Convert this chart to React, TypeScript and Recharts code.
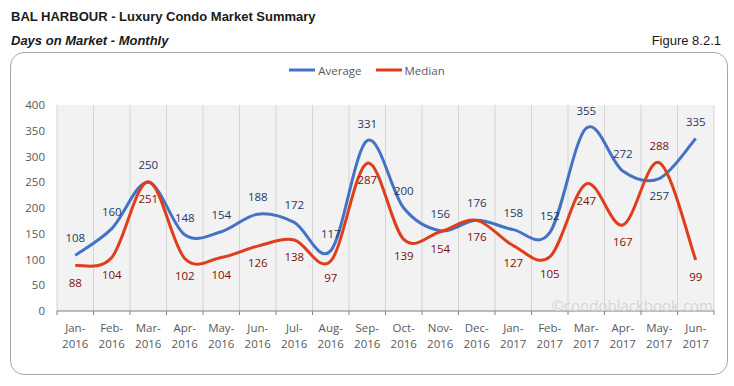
import { LineChart, Line, XAxis, YAxis, CartesianGrid, Legend, LabelList } from "recharts";

const months = [
  "Jan-2016", "Feb-2016", "Mar-2016", "Apr-2016", "May-2016", "Jun-2016",
  "Jul-2016", "Aug-2016", "Sep-2016", "Oct-2016", "Nov-2016", "Dec-2016",
  "Jan-2017", "Feb-2017", "Mar-2017", "Apr-2017", "May-2017", "Jun-2017",
];
const average = [108, 160, 250, 148, 154, 188, 172, 117, 331, 200, 156, 176, 158, 152, 355, 272, 257, 335];
const median = [88, 104, 251, 102, 104, 126, 138, 97, 287, 139, 154, 176, 127, 105, 247, 167, 288, 99];
const yTicks = [0, 50, 100, 150, 200, 250, 300, 350, 400];

// labels that Excel put on the "other" side of the point
const avgBelow = ["May-2017"];
const medAbove = ["May-2017"];

const data = months.map((m, i) => ({ month: m, average: average[i], median: median[i] }));

const W = 734;
const H = 386;
const X_H = 75;
const M = { top: 89, right: 20, bottom: 0, left: 0 };
const Y_W = 57;
const PLOT_W = W - M.left - M.right - Y_W;
const BAND = PLOT_W / months.length;

const FONT = "'Open Sans', 'Liberation Sans', sans-serif";
const BLUE = "#4472c4";
const RED = "#df3d1c";

// Excel-like smoothed line (Catmull-Rom through every point)
function excelCurve(context: any) {
  let pts: number[][] = [];
  return {
    areaStart() {},
    areaEnd() {},
    lineStart() {
      pts = [];
    },
    point(x: number, y: number) {
      pts.push([+x, +y]);
    },
    lineEnd() {
      if (!pts.length) return;
      context.moveTo(pts[0][0], pts[0][1]);
      for (let i = 0; i < pts.length - 1; i++) {
        const p0 = pts[i - 1] || pts[i];
        const p1 = pts[i];
        const p2 = pts[i + 1];
        const p3 = pts[i + 2] || p2;
        context.bezierCurveTo(
          p1[0] + (p2[0] - p0[0]) / 6,
          p1[1] + (p2[1] - p0[1]) / 6,
          p2[0] - (p3[0] - p1[0]) / 6,
          p2[1] - (p3[1] - p1[1]) / 6,
          p2[0],
          p2[1]
        );
      }
    },
  };
}

function makeLabel(color: string, below: boolean, flip: string[]) {
  return (props: any) => {
    const { x, y, value, index } = props;
    const down = flip.includes(months[index]) ? !below : below;
    return (
      <text
        x={x}
        y={down ? y + 18 : y - 16}
        textAnchor="middle"
        dominantBaseline="middle"
        fill={color}
        fontSize={11.5}
        fontFamily={FONT}
      >
        {value}
      </text>
    );
  };
}

function MonthTick(props: any) {
  const { x, y, payload, index } = props;
  const [mon, yr] = String(payload.value).split("-");
  return (
    <g>
      <line x1={x - BAND / 2} x2={x - BAND / 2} y1={y - 8} y2={y - 4} stroke="#7f7f7f" />
      {index === months.length - 1 && (
        <line x1={x + BAND / 2} x2={x + BAND / 2} y1={y - 8} y2={y - 4} stroke="#7f7f7f" />
      )}
      <text x={x} y={y + 13} textAnchor="middle" fill="#595959" fontSize={11.5} fontFamily={FONT}>
        {mon}-
      </text>
      <text x={x} y={y + 29} textAnchor="middle" fill="#595959" fontSize={11.5} fontFamily={FONT}>
        {yr}
      </text>
    </g>
  );
}

function LegendBox() {
  const item = (color: string, name: string) => (
    <span style={{ display: "inline-flex", alignItems: "center", margin: "0 7px" }}>
      <svg width={26} height={8}>
        <line x1={0} x2={26} y1={4} y2={4} stroke={color} strokeWidth={3} />
      </svg>
      <span style={{ marginLeft: 3, color: "#595959", fontSize: 11.5, fontFamily: FONT }}>{name}</span>
    </span>
  );
  return (
    <div style={{ height: 16, display: "flex", justifyContent: "center", alignItems: "center" }}>
      {item(BLUE, "Average")}
      {item(RED, "Median")}
    </div>
  );
}

export default function App() {
  return (
    <div style={{ position: "absolute", left: 0, top: 0, width: W, height: H, background: "#fff", fontFamily: "'Liberation Sans', Arial, sans-serif" }}>
      <div style={{ position: "absolute", left: 11, top: 9, fontSize: 13, fontWeight: "bold", color: "#1a1a1a" }}>
        BAL HARBOUR - Luxury Condo Market Summary
      </div>
      <div style={{ position: "absolute", left: 11, top: 33, fontSize: 13, fontWeight: "bold", fontStyle: "italic", color: "#1a1a1a" }}>
        Days on Market - Monthly
      </div>
      <div style={{ position: "absolute", right: 13, top: 33, fontSize: 13, color: "#1a1a1a" }}>Figure 8.2.1</div>
      <div style={{ position: "absolute", left: 10, top: 52, width: 716, height: 321, border: "1px solid #a6a6a6", borderRadius: 14 }} />
      <div style={{ position: "absolute", left: 0, top: 0 }}>
        <LineChart width={W} height={H} data={data} margin={M}>
          <CartesianGrid
            fill="#f2f2f2"
            horizontal={false}
            stroke="#d4d4d4"
            verticalCoordinatesGenerator={({ offset }: any) =>
              months.map((_, i) => offset.left + BAND * i).concat([offset.left + offset.width])
            }
          />
          <Legend verticalAlign="top" wrapperStyle={{ top: 62, left: 0, width: W }} content={() => <LegendBox />} />
          <YAxis
            width={Y_W}
            domain={[0, 400]}
            ticks={yTicks}
            interval={0}
            axisLine={false}
            tickLine={false}
            tickMargin={6}
            tick={{ fill: "#595959", fontSize: 11.5, fontFamily: FONT }}
          />
          <XAxis
            dataKey="month"
            interval={0}
            padding={{ left: BAND / 2, right: BAND / 2 }}
            axisLine={{ stroke: "#7f7f7f" }}
            tickLine={false}
            tick={<MonthTick />}
            height={X_H}
          />
          <Line
            dataKey="average"
            name="Average"
            type={excelCurve as any}
            stroke={BLUE}
            strokeWidth={3}
            dot={false}
            isAnimationActive={false}
          >
            <LabelList dataKey="average" content={makeLabel("#1f3864", false, avgBelow)} />
          </Line>
          <Line
            dataKey="median"
            name="Median"
            type={excelCurve as any}
            stroke={RED}
            strokeWidth={3}
            dot={false}
            isAnimationActive={false}
          >
            <LabelList dataKey="median" content={makeLabel("#7b1010", true, medAbove)} />
          </Line>
        </LineChart>
      </div>
      <div style={{ position: "absolute", right: 21, top: 295, fontSize: 15, color: "#d6d6d6", fontFamily: FONT }}>
        ©condoblackbook.com
      </div>
    </div>
  );
}
